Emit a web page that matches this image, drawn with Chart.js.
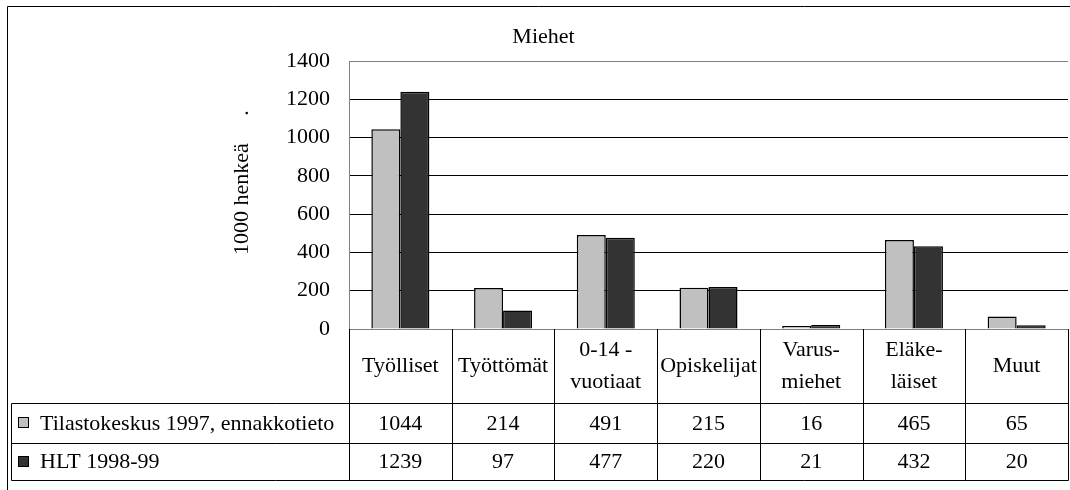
<!DOCTYPE html>
<html>
<head>
<meta charset="utf-8">
<script src="https://cdn.jsdelivr.net/npm/chart.js@4/dist/chart.umd.min.js"></script>
<style>
  html, body { margin: 0; padding: 0; background: #fff; }
  canvas { display: block; }
</style>
</head>
<body>
<canvas id="miehetChart" width="1070" height="490"></canvas>
<script>
// Ryhmät (otsikot taulukossa, rivinvaihdot mukana)
const categories = [
  'Työlliset',
  'Työttömät',
  ['0-14 -', 'vuotiaat'],
  'Opiskelijat',
  ['Varus-', 'miehet'],
  ['Eläke-', 'läiset'],
  'Muut'
];

// 1000 henkeä
const tilastokeskus1997 = [1044, 214, 491, 215, 16, 465, 65];
const hlt199899 = [1239, 97, 477, 220, 21, 432, 20];

const seriesNames = ['Tilastokeskus 1997, ennakkotieto', 'HLT 1998-99'];
const seriesColors = ['#c0c0c0', '#333333'];

const yMax = 1400;
const yStep = 200;

const SERIF = "'Liberation Serif', 'Times New Roman', Times, 'DejaVu Serif', serif";
const FONT_SIZE = 22;

// Taulukko kaavion alle: rivien alareunat
const tableRows = { header: 403, row1: 443, row2: 480 };
const tableLeft = 11;

// Piirtää datataulukon, akselin otsikon ja kehyksen
const dataTablePlugin = {
  id: 'dataTable',
  afterDraw(chart) {
    const ctx = chart.ctx;
    const area = chart.chartArea;
    const xs = chart.scales.x;
    const catW = xs.width / categories.length;
    const right = Math.round(area.right) + 0.5;

    ctx.save();
    ctx.strokeStyle = '#000';
    ctx.lineWidth = 1;

    // ulkokehys
    ctx.beginPath();
    ctx.moveTo(7.5, chart.height);
    ctx.lineTo(7.5, 6.5);
    ctx.lineTo(chart.width, 6.5);
    ctx.stroke();

    // vaakaviivat
    ctx.beginPath();
    [tableRows.header, tableRows.row1, tableRows.row2].forEach(y => {
      ctx.moveTo(tableLeft + 0.5, y + 0.5);
      ctx.lineTo(right, y + 0.5);
    });
    // vasen reuna selitesarakkeelle
    ctx.moveTo(tableLeft + 0.5, tableRows.header + 0.5);
    ctx.lineTo(tableLeft + 0.5, tableRows.row2 + 0.5);
    // sarakeviivat ryhmien rajoilla
    for (let i = 0; i <= categories.length; i++) {
      const x = Math.round(xs.left + i * catW) + 0.5;
      ctx.moveTo(x, Math.round(area.bottom));
      ctx.lineTo(x, tableRows.row2 + 0.5);
    }
    ctx.stroke();

    ctx.fillStyle = '#000';
    ctx.font = FONT_SIZE + 'px ' + SERIF;
    ctx.textAlign = 'center';
    ctx.textBaseline = 'middle';

    // ryhmien nimet
    const headerMid = (area.bottom + tableRows.header) / 2;
    categories.forEach((label, i) => {
      const cx = xs.getPixelForValue(i);
      const lines = Array.isArray(label) ? label : [label];
      const lh = 32;
      lines.forEach((line, j) => {
        const y = headerMid + (j - (lines.length - 1) / 2) * lh;
        ctx.fillText(line, cx, y);
      });
    });

    // arvorivit
    const rowMids = [
      (tableRows.header + tableRows.row1) / 2,
      (tableRows.row1 + tableRows.row2) / 2
    ];
    chart.data.datasets.forEach((ds, r) => {
      ds.data.forEach((v, i) => {
        ctx.fillText(String(v), xs.getPixelForValue(i), rowMids[r] + 1);
      });
    });

    // selitteet vasemmassa sarakkeessa
    ctx.textAlign = 'left';
    chart.data.datasets.forEach((ds, r) => {
      const y = Math.round(rowMids[r]);
      ctx.fillStyle = ds.backgroundColor;
      ctx.fillRect(18.5, y - 5.5, 10, 10);
      ctx.strokeRect(18.5, y - 5.5, 10, 10);
      ctx.fillStyle = '#000';
      ctx.fillText(ds.label, 40, rowMids[r] + 1);
    });

    // y-akselin otsikko
    ctx.translate(248, 255);
    ctx.rotate(-Math.PI / 2);
    ctx.textAlign = 'left';
    ctx.textBaseline = 'alphabetic';
    ctx.fillText('1000 henkeä\u00a0\u00a0\u00a0\u00a0\u00a0.', 0, 0);

    ctx.restore();
  }
};

new Chart(document.getElementById('miehetChart'), {
  type: 'bar',
  data: {
    labels: categories,
    datasets: [
      {
        label: seriesNames[0],
        data: tilastokeskus1997,
        backgroundColor: seriesColors[0],
        borderColor: '#000',
        borderWidth: 1.5
      },
      {
        label: seriesNames[1],
        data: hlt199899,
        backgroundColor: seriesColors[1],
        borderColor: '#000',
        borderWidth: 1.5
      }
    ]
  },
  options: {
    responsive: false,
    animation: false,
    devicePixelRatio: 1,
    layout: { padding: { left: 19, right: 2, top: 0, bottom: 0 } },
    datasets: {
      bar: { categoryPercentage: 0.565, barPercentage: 1 }
    },
    scales: {
      x: {
        ticks: { display: false },
        grid: { display: false },
        border: { display: true, color: '#808080' },
        afterFit(scale) { scale.height = 161; }
      },
      y: {
        min: 0,
        max: yMax,
        ticks: {
          stepSize: yStep,
          padding: 19,
          color: '#000',
          font: { family: SERIF, size: FONT_SIZE },
          callback: v => String(v)
        },
        grid: {
          drawTicks: false,
          color: c => (c.tick.value === 0 || c.tick.value === yMax) ? '#808080' : '#000'
        },
        border: { display: true, color: '#808080' },
        afterFit(scale) { scale.width = 330; }
      }
    },
    plugins: {
      legend: { display: false },
      tooltip: { enabled: false },
      title: {
        display: true,
        text: 'Miehet',
        color: '#000',
        font: { family: SERIF, size: FONT_SIZE, weight: 'normal', lineHeight: '25px' },
        padding: { top: 25, bottom: 11 }
      }
    }
  },
  plugins: [dataTablePlugin]
});
</script>
</body>
</html>
